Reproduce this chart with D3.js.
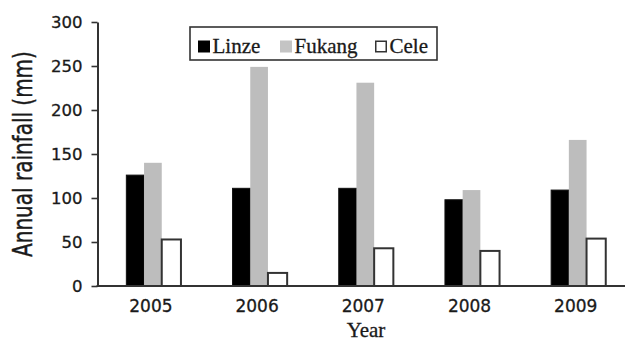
<!DOCTYPE html>
<html>
<head>
<meta charset="utf-8">
<script src="https://cdn.jsdelivr.net/npm/d3@7"></script>
<style>
  html, body { margin: 0; padding: 0; background: #fff; }
  svg { display: block; }
</style>
</head>
<body>
<svg id="chart" width="625" height="342"></svg>
<script>
// Annual rainfall per site, 2005–2009 (mm)
const years = ["2005", "2006", "2007", "2008", "2009"];
const seriesNames = ["Linze", "Fukang", "Cele"];
const linze = [126, 111, 111, 98, 109];
const fukang = [140, 249, 231, 109, 166];
const cele = [54, 16, 44, 41, 55];
const yTicks = [0, 50, 100, 150, 200, 250, 300];

const seriesValues = [linze, fukang, cele];
const fills = ["#000000", "#bdbdbd", "#ffffff"];
const strokes = ["#111111", "none", "#333333"];

const svg = d3.select("#chart");
const axisColor = "#333333";
const textColor = "#1a1a1a";
const sansFont = "'DejaVu Sans', sans-serif";
const serifFont = "'Liberation Serif', 'Times New Roman', serif";

const y = d3.scaleLinear().domain([0, 300]).range([286, 22]);
const x = d3.scaleBand().domain(years).range([99.8, 630.8])
  .paddingInner(0.5).paddingOuter(0.25);
const xs = d3.scaleBand().domain(seriesNames).range([0, x.bandwidth()]);

// bars
const rows = years.map((yr, i) => ({ year: yr, vals: seriesNames.map((s, j) => ({ s, j, v: seriesValues[j][i] })) }));
const groups = svg.append("g").selectAll("g").data(rows).join("g")
  .attr("transform", d => `translate(${x(d.year)},0)`);
groups.selectAll("rect").data(d => d.vals).join("rect")
  .attr("x", d => xs(d.s))
  .attr("y", d => y(d.v) + (d.j === 2 ? 1 : 0))
  .attr("width", d => xs.bandwidth() + (d.j === 2 ? 1.5 : 0))
  .attr("height", d => y(0) - y(d.v) - (d.j === 2 ? 1 : 0))
  .attr("fill", d => fills[d.j])
  .attr("stroke", d => strokes[d.j])
  .attr("stroke-width", d => d.j === 2 ? 2 : (d.j === 0 ? 1 : 0));

// y axis
const yAxis = svg.append("g").attr("transform", "translate(97.5,0)")
  .call(d3.axisLeft(y).tickValues(yTicks).tickSize(6).tickSizeOuter(0).tickPadding(9));
yAxis.select(".domain").attr("stroke", axisColor).attr("stroke-width", 2);
yAxis.selectAll(".tick line").attr("stroke", axisColor).attr("stroke-width", 1.6);
yAxis.selectAll(".tick text")
  .attr("fill", textColor)
  .attr("stroke", textColor).attr("stroke-width", 0.3)
  .style("font-family", sansFont)
  .style("font-size", "16.5px");

// x axis: category labels and baseline
const xAxis = svg.append("g").attr("transform", "translate(-2,286)")
  .call(d3.axisBottom(x).tickSize(0).tickPadding(14));
xAxis.select(".domain").remove();
xAxis.selectAll(".tick text")
  .attr("fill", textColor)
  .attr("stroke", textColor).attr("stroke-width", 0.3)
  .style("font-family", sansFont)
  .style("font-size", "17px");
svg.append("line")
  .attr("x1", 96.5).attr("x2", 625)
  .attr("y1", y(0)).attr("y2", y(0))
  .attr("stroke", axisColor).attr("stroke-width", 2);

// axis titles
svg.append("text")
  .attr("transform", "translate(32,154) rotate(-90) scale(1,1.33)")
  .attr("text-anchor", "middle")
  .attr("fill", textColor)
  .attr("stroke", textColor).attr("stroke-width", 0.35)
  .style("font-family", sansFont)
  .style("font-size", "20px")
  .text("Annual rainfall (mm)");

svg.append("text")
  .attr("x", 366).attr("y", 337)
  .attr("text-anchor", "middle")
  .attr("fill", textColor)
  .attr("stroke", textColor).attr("stroke-width", 0.3)
  .style("font-family", serifFont)
  .style("font-size", "21px")
  .text("Year");

// legend
const legend = svg.append("g");
legend.append("rect")
  .attr("x", 190).attr("y", 27).attr("width", 247).attr("height", 33)
  .attr("fill", "#fff").attr("stroke", axisColor).attr("stroke-width", 1.6);
const legendX = [198, 280, 375];
const items = legend.selectAll("g.item").data(seriesNames).join("g")
  .attr("class", "item")
  .attr("transform", (d, i) => `translate(${legendX[i]},0)`);
items.append("rect")
  .attr("x", (d, i) => i === 2 ? 0.75 : 0)
  .attr("y", (d, i) => i === 2 ? 41.25 : 40.5)
  .attr("width", (d, i) => i === 2 ? 10.5 : 12)
  .attr("height", (d, i) => i === 2 ? 10.5 : 12)
  .attr("fill", (d, i) => i === 1 ? "#c4c4c4" : fills[i])
  .attr("stroke", (d, i) => i === 2 ? "#333" : "none")
  .attr("stroke-width", 1.5);
items.append("text")
  .attr("x", 14.5).attr("y", 52.5)
  .attr("fill", textColor)
  .attr("stroke", textColor).attr("stroke-width", 0.3)
  .style("font-family", serifFont)
  .style("font-size", "21px")
  .text(d => d);
</script>
</body>
</html>
